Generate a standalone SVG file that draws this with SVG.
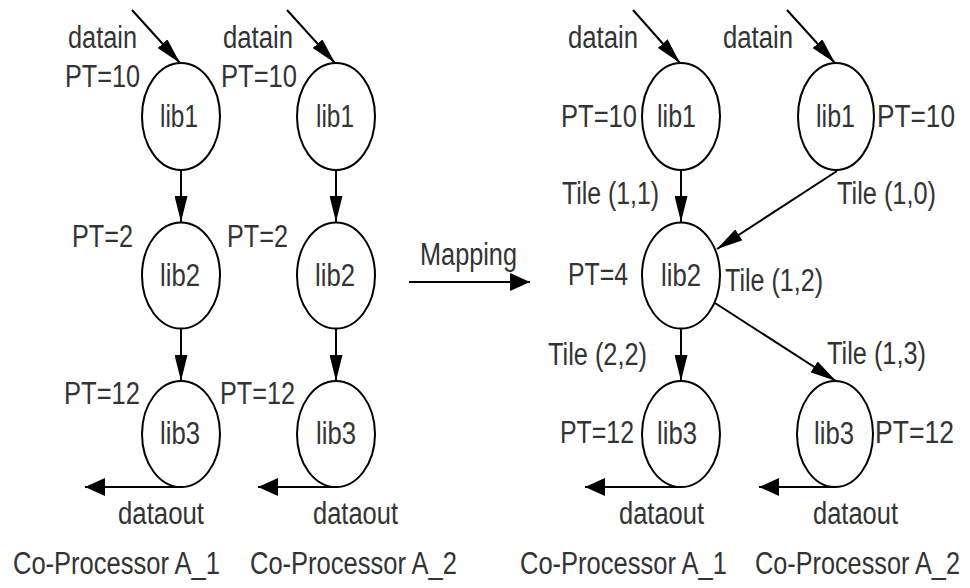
<svg xmlns="http://www.w3.org/2000/svg" width="970" height="588" viewBox="0 0 970 588">
<style>
  .n { fill: #fff; stroke: #000; stroke-width: 2; }
  .t { font-family: "Liberation Sans Narrow", "Liberation Sans", Arial, sans-serif; font-size: 31px; fill: #333; }
  .e { stroke: #000; stroke-width: 2; fill: none; }
  .ea { marker-end: url(#ma); }
  .eb { marker-end: url(#mb); }
</style>
<defs>
  <marker id="ma" markerUnits="userSpaceOnUse" markerWidth="27" markerHeight="13" refX="26" refY="6.5" orient="auto">
    <path d="M0,0 L26,6.5 L0,13 z" fill="#000"/>
  </marker>
  <marker id="mb" markerUnits="userSpaceOnUse" markerWidth="21" markerHeight="18" refX="20" refY="9" orient="auto">
    <path d="M0,0 L20,9 L0,18 z" fill="#000"/>
  </marker>
</defs>
<rect width="970" height="588" fill="#fff"/>

<g id="connectors">
  <!-- left co-processor A_1 -->
  <line class="e ea" x1="132" y1="10" x2="180" y2="63"/>
  <line class="e ea" x1="181" y1="170" x2="181" y2="222"/>
  <line class="e ea" x1="181" y1="329" x2="181" y2="381"/>
  <line class="e eb" x1="181" y1="487" x2="85" y2="487"/>
  <!-- left co-processor A_2 -->
  <line class="e ea" x1="287" y1="10" x2="335" y2="63"/>
  <line class="e ea" x1="336" y1="170" x2="336" y2="222"/>
  <line class="e ea" x1="336" y1="329" x2="336" y2="381"/>
  <line class="e eb" x1="336" y1="487" x2="258" y2="487"/>
  <!-- mapping -->
  <line class="e eb" x1="409" y1="282" x2="530" y2="282"/>
  <!-- right side -->
  <line class="e ea" x1="633" y1="10" x2="680" y2="63"/>
  <line class="e ea" x1="787" y1="10" x2="835" y2="63"/>
  <line class="e ea" x1="681" y1="170" x2="681" y2="222"/>
  <line class="e ea" x1="837" y1="171" x2="717" y2="249"/>
  <line class="e ea" x1="681" y1="329" x2="681" y2="381"/>
  <line class="e ea" x1="715" y1="303" x2="836" y2="381"/>
  <line class="e eb" x1="681" y1="487" x2="585" y2="487"/>
  <line class="e eb" x1="836" y1="487" x2="759" y2="487"/>
</g>

<!-- Left: Co-Processor A_1 -->
<g id="L1_lib1">
  <ellipse class="n" cx="181" cy="116.5" rx="39" ry="53.5"/>
  <text class="t" x="160" y="127" textLength="38" lengthAdjust="spacingAndGlyphs">lib1</text>
</g>
<g id="L1_lib2">
  <ellipse class="n" cx="181" cy="275.5" rx="39" ry="53"/>
  <text class="t" x="160" y="286" textLength="40" lengthAdjust="spacingAndGlyphs">lib2</text>
</g>
<g id="L1_lib3">
  <ellipse class="n" cx="181" cy="434" rx="39" ry="53"/>
  <text class="t" x="160" y="444" textLength="40" lengthAdjust="spacingAndGlyphs">lib3</text>
</g>

<!-- Left: Co-Processor A_2 -->
<g id="L2_lib1">
  <ellipse class="n" cx="336" cy="116.5" rx="39" ry="53.5"/>
  <text class="t" x="316" y="127" textLength="38" lengthAdjust="spacingAndGlyphs">lib1</text>
</g>
<g id="L2_lib2">
  <ellipse class="n" cx="336" cy="275.5" rx="39" ry="53"/>
  <text class="t" x="315" y="286" textLength="40" lengthAdjust="spacingAndGlyphs">lib2</text>
</g>
<g id="L2_lib3">
  <ellipse class="n" cx="336" cy="434" rx="39" ry="53"/>
  <text class="t" x="316" y="444" textLength="40" lengthAdjust="spacingAndGlyphs">lib3</text>
</g>

<!-- Right -->
<g id="R1_lib1">
  <ellipse class="n" cx="681" cy="116.5" rx="39" ry="53.5"/>
  <text class="t" x="657" y="127" textLength="39" lengthAdjust="spacingAndGlyphs">lib1</text>
</g>
<g id="R2_lib1">
  <ellipse class="n" cx="836" cy="116.5" rx="38" ry="53.5"/>
  <text class="t" x="816" y="127" textLength="39" lengthAdjust="spacingAndGlyphs">lib1</text>
</g>
<g id="R_lib2">
  <ellipse class="n" cx="681" cy="275.5" rx="39" ry="53"/>
  <text class="t" x="661" y="286" textLength="40" lengthAdjust="spacingAndGlyphs">lib2</text>
</g>
<g id="R1_lib3">
  <ellipse class="n" cx="681" cy="434" rx="39" ry="53"/>
  <text class="t" x="657" y="444" textLength="40" lengthAdjust="spacingAndGlyphs">lib3</text>
</g>
<g id="R2_lib3">
  <ellipse class="n" cx="835" cy="434" rx="38" ry="53"/>
  <text class="t" x="814" y="444" textLength="40" lengthAdjust="spacingAndGlyphs">lib3</text>
</g>

<g id="labels">
  <!-- left A_1 -->
  <text class="t" x="68" y="48" textLength="69" lengthAdjust="spacingAndGlyphs">datain</text>
  <text class="t" x="65" y="87" textLength="75" lengthAdjust="spacingAndGlyphs">PT=10</text>
  <text class="t" x="72" y="247" textLength="61" lengthAdjust="spacingAndGlyphs">PT=2</text>
  <text class="t" x="64" y="404" textLength="76" lengthAdjust="spacingAndGlyphs">PT=12</text>
  <text class="t" x="118" y="524" textLength="86" lengthAdjust="spacingAndGlyphs">dataout</text>
  <text class="t" x="13" y="574" textLength="207" lengthAdjust="spacingAndGlyphs">Co-Processor A_1</text>
  <!-- left A_2 -->
  <text class="t" x="223" y="48" textLength="70" lengthAdjust="spacingAndGlyphs">datain</text>
  <text class="t" x="221" y="87" textLength="76" lengthAdjust="spacingAndGlyphs">PT=10</text>
  <text class="t" x="227" y="247" textLength="61" lengthAdjust="spacingAndGlyphs">PT=2</text>
  <text class="t" x="220" y="404" textLength="75" lengthAdjust="spacingAndGlyphs">PT=12</text>
  <text class="t" x="313" y="524" textLength="85" lengthAdjust="spacingAndGlyphs">dataout</text>
  <text class="t" x="250" y="574" textLength="207" lengthAdjust="spacingAndGlyphs">Co-Processor A_2</text>
  <!-- mapping -->
  <text class="t" x="420" y="265" textLength="97" lengthAdjust="spacingAndGlyphs">Mapping</text>
  <!-- right -->
  <text class="t" x="568" y="48" textLength="70" lengthAdjust="spacingAndGlyphs">datain</text>
  <text class="t" x="723" y="48" textLength="70" lengthAdjust="spacingAndGlyphs">datain</text>
  <text class="t" x="561" y="127" textLength="76" lengthAdjust="spacingAndGlyphs">PT=10</text>
  <text class="t" x="877" y="127" textLength="78" lengthAdjust="spacingAndGlyphs">PT=10</text>
  <text class="t" x="562" y="204" textLength="97" lengthAdjust="spacingAndGlyphs">Tile (1,1)</text>
  <text class="t" x="837" y="204" textLength="99" lengthAdjust="spacingAndGlyphs">Tile (1,0)</text>
  <text class="t" x="568" y="285" textLength="60" lengthAdjust="spacingAndGlyphs">PT=4</text>
  <text class="t" x="725" y="291" textLength="98" lengthAdjust="spacingAndGlyphs">Tile (1,2)</text>
  <text class="t" x="548" y="365" textLength="99" lengthAdjust="spacingAndGlyphs">Tile (2,2)</text>
  <text class="t" x="827" y="364" textLength="99" lengthAdjust="spacingAndGlyphs">Tile (1,3)</text>
  <text class="t" x="560" y="443" textLength="74" lengthAdjust="spacingAndGlyphs">PT=12</text>
  <text class="t" x="875" y="443" textLength="79" lengthAdjust="spacingAndGlyphs">PT=12</text>
  <text class="t" x="619" y="524" textLength="85" lengthAdjust="spacingAndGlyphs">dataout</text>
  <text class="t" x="813" y="524" textLength="85" lengthAdjust="spacingAndGlyphs">dataout</text>
  <text class="t" x="520" y="574" textLength="207" lengthAdjust="spacingAndGlyphs">Co-Processor A_1</text>
  <text class="t" transform="translate(755,574) scale(0.81,1)" x="0" y="0" textLength="253" lengthAdjust="spacingAndGlyphs">Co-Processor A_2</text>
</g>
</svg>
